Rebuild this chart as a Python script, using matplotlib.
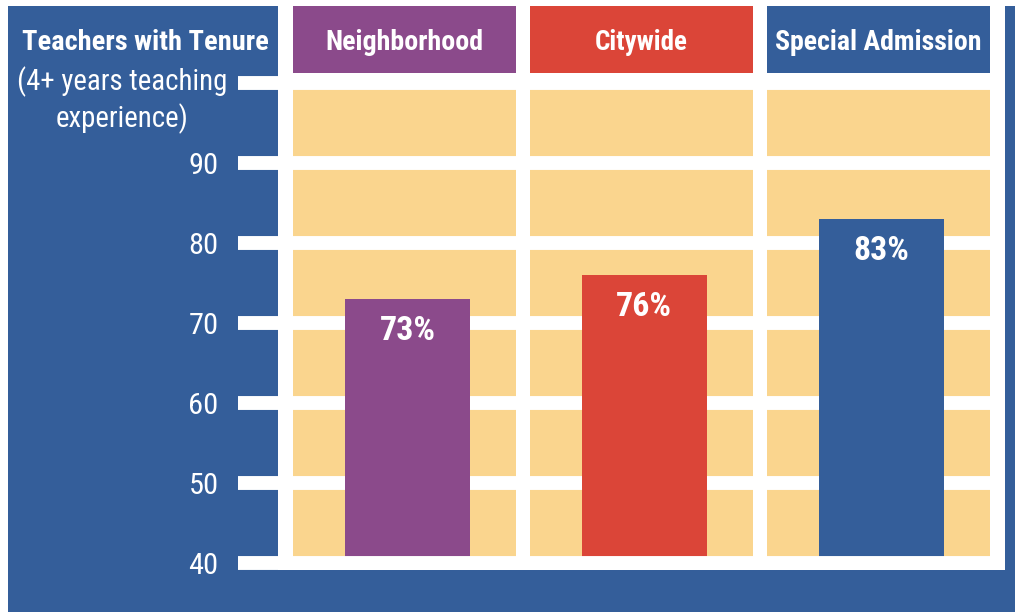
import matplotlib
matplotlib.use("Agg")
import matplotlib.pyplot as plt
from matplotlib import font_manager
from matplotlib.patches import Rectangle

# ---------------- dados ----------------
categorias = ["Neighborhood", "Citywide", "Special Admission"]
valores = [73, 76, 83]
rotulos = ["73%", "76%", "83%"]
ticks = [40, 50, 60, 70, 80, 90, 100]
tick_labels = ["40", "50", "60", "70", "80", "90", ""]

# ---------------- estilo ----------------
AZUL = "#345e9a"
ROXO = "#8b4a8b"
VERMELHO = "#db4538"
AMARELO = "#fad58e"
BRANCO = "white"
cores = [ROXO, VERMELHO, AZUL]

# escolhe uma fonte estreita, se houver
instaladas = {f.name for f in font_manager.fontManager.ttflist}
fonte = "DejaVu Sans"
for nome in ["Liberation Sans Narrow", "DejaVu Sans Condensed", "Roboto Condensed",
             "Open Sans Condensed", "Noto Sans Condensed", "Roboto", "Lato"]:
    if nome in instaladas:
        fonte = nome
        break
plt.rcParams["font.family"] = [fonte, "DejaVu Sans"]

W, H = 1015, 612
fig = plt.figure(figsize=(W / 100, H / 100), dpi=100)
fig.patch.set_facecolor(BRANCO)

def px(x0, y0, x1, y1):
    # retângulo em pixels (origem no topo) -> coordenadas da figura
    return (x0 / W, 1 - y1 / H), (x1 - x0) / W, (y1 - y0) / H

# fundo azul: painel esquerdo, faixa de baixo, faixa da direita
for caixa in [(8, 6, 278, 612), (8, 570, 1015, 612), (1005, 6, 1015, 612)]:
    xy, w, h = px(*caixa)
    fig.patches.append(Rectangle(xy, w, h, transform=fig.transFigure,
                                 facecolor=AZUL, edgecolor="none", zorder=-5))

# eixo principal
xy, w, h = px(278, 0, 1005, 570)
ax = fig.add_axes([xy[0], xy[1], w, h])
ax.set_facecolor(BRANCO)
ax.set_xlim(-0.534, 2.534)
ax.set_ylim(39.125, 110.375)
for s in ax.spines.values():
    s.set_visible(False)

x = range(len(categorias))
largura_cel = 0.94

# células amarelas de fundo
ax.bar(x, 60, bottom=40, width=largura_cel, color=AMARELO, zorder=1)

# linhas brancas da grade
for t in ticks[1:]:
    ax.axhline(t, color=BRANCO, lw=10, zorder=2)

# barras
ax.bar([i + 0.012 for i in x], [v - 40 for v in valores], bottom=40,
       width=0.53, color=cores, zorder=3)
ax.axhline(40, color=BRANCO, lw=10, zorder=4)

renderer = fig.canvas.get_renderer()

def ajusta(t, largura_px):
    # ajusta o tamanho da fonte para a largura vista na referência
    w = t.get_window_extent(renderer).width
    t.set_fontsize(t.get_fontsize() * largura_px / w)

# rótulos das barras
for i, v in enumerate(valores):
    t = ax.text(i + 0.012, v - 4.0, rotulos[i], ha="center", va="center",
                color=BRANCO, fontsize=22, fontweight="bold", zorder=5)
    ajusta(t, 56)

# cabeçalhos coloridos
larg_cab = [158, 92, 206]
ax.bar(x, 8.35, bottom=101.25, width=largura_cel, color=cores, zorder=3)
for i, c in enumerate(categorias):
    t = ax.text(i, 105.1, c, ha="center", va="center", color=BRANCO,
                fontsize=20, fontweight="bold", zorder=5)
    ajusta(t, larg_cab[i])

# ticks
tmp = fig.text(0, 0, "90", fontsize=20)
ajusta(tmp, 30)
tam_tick = tmp.get_fontsize()
tmp.remove()
ax.set_xticks([])
ax.set_yticks(ticks)
ax.set_yticklabels(tick_labels)
ax.tick_params(axis="y", length=28.8, width=10, color=BRANCO, pad=14,
               labelcolor=BRANCO, labelsize=tam_tick)

# título do eixo y
t = fig.text(145 / W, 1 - 42 / H, "Teachers with Tenure", ha="center", va="center",
             color=BRANCO, fontsize=20, fontweight="bold")
ajusta(t, 245)
t = fig.text(122 / W, 1 - 100 / H, "(4+ years teaching\nexperience)", ha="center",
             va="center", multialignment="center", color=BRANCO, fontsize=20,
             linespacing=1.25)
ajusta(t, 210)

fig.savefig("out.png", dpi=100, facecolor=fig.get_facecolor())
